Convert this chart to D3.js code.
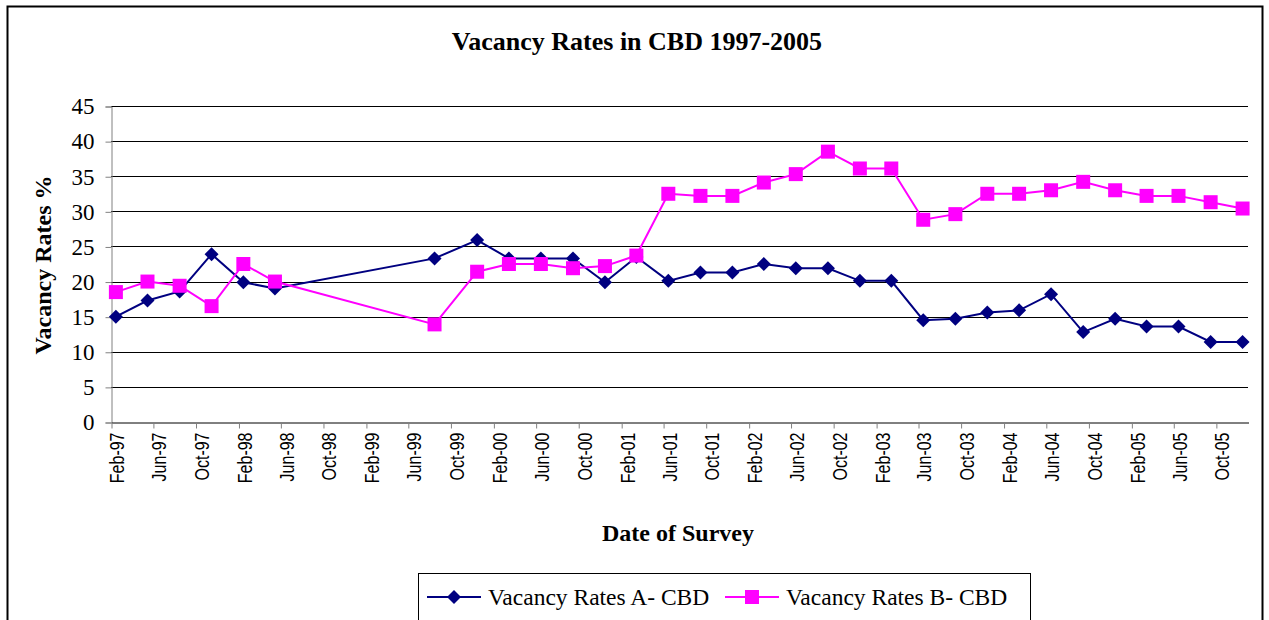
<!DOCTYPE html>
<html>
<head>
<meta charset="utf-8">
<script src="https://cdn.jsdelivr.net/npm/d3@7"></script>
<style>
  body { margin: 0; background: #fff; }
</style>
</head>
<body>
<div id="chart"></div>
<script>
// survey dates (month of survey)
const surveyDates = ["Feb-97","May-97","Aug-97","Nov-97","Feb-98","May-98","Aug-99","Dec-99",
  "Mar-00","Jun-00","Sep-00","Dec-00","Mar-01","Jun-01","Sep-01","Dec-01",
  "Mar-02","Jun-02","Sep-02","Dec-02","Mar-03","Jun-03","Sep-03","Dec-03",
  "Mar-04","Jun-04","Sep-04","Dec-04","Mar-05","Jun-05","Sep-05","Dec-05"];

const ratesA = [15.0, 17.3, 18.6, 23.9, 19.9, 19.0, 23.3, 25.9,
  23.3, 23.3, 23.3, 19.9, 23.5, 20.1, 21.3, 21.3,
  22.5, 21.9, 21.9, 20.1, 20.1, 14.5, 14.7, 15.6,
  15.9, 18.2, 12.8, 14.7, 13.6, 13.6, 11.4, 11.4];

const ratesB = [18.5, 20.0, 19.4, 16.5, 22.5, 20.0, 13.9, 21.4,
  22.5, 22.5, 21.9, 22.2, 23.7, 32.5, 32.2, 32.2,
  34.1, 35.3, 38.5, 36.1, 36.1, 28.8, 29.6, 32.5,
  32.5, 33.0, 34.2, 33.0, 32.2, 32.2, 31.3, 30.4];

const tickLabels = ["Feb-97","Jun-97","Oct-97","Feb-98","Jun-98","Oct-98","Feb-99","Jun-99",
  "Oct-99","Feb-00","Jun-00","Oct-00","Feb-01","Jun-01","Oct-01","Feb-02","Jun-02",
  "Oct-02","Feb-03","Jun-03","Oct-03","Feb-04","Jun-04","Oct-04","Feb-05","Jun-05","Oct-05"];

const yTicks = [0, 5, 10, 15, 20, 25, 30, 35, 40, 45];
const axisStart = "Feb-97", axisEnd = "Jan-06";

const width = 1269, height = 620;
const margin = ({top: 106, right: 21, bottom: 198, left: 111});
const serif = "'Liberation Serif', 'Times New Roman', serif";
const sans = "'Liberation Sans', Arial, sans-serif";
const colA = "#000080", colB = "#ff00ff";

const parse = d3.timeParse("%b-%y");

const svg = d3.select("#chart")
  .append("svg")
  .attr("width", width)
  .attr("height", height);

// outer chart frame
svg.append("rect")
  .attr("x", 7.5).attr("y", 6.5)
  .attr("width", 1255).attr("height", 640)
  .attr("fill", "none")
  .attr("stroke", "#000")
  .attr("stroke-width", 2);

const x = d3.scaleTime()
  .domain([parse(axisStart), parse(axisEnd)])
  .range([margin.left, width - margin.right]);

const y = d3.scaleLinear()
  .domain([0, 45])
  .range([height - margin.bottom, margin.top]);

// points sit in the middle of their month
const xMid = s => {
  const d = parse(s);
  return (x(d) + x(d3.timeMonth.offset(d, 1))) / 2;
};

// gridlines
svg.append("g")
  .selectAll("line")
  .data(yTicks.slice(1))
  .join("line")
    .attr("x1", margin.left)
    .attr("x2", width - margin.right)
    .attr("y1", d => Math.round(y(d)) + 0.5)
    .attr("y2", d => Math.round(y(d)) + 0.5)
    .attr("stroke", "#000")
    .attr("stroke-width", 1);

// y axis
const yAxis = g => g
  .attr("transform", `translate(${margin.left + 0.5},0.5)`)
  .call(d3.axisLeft(y).tickValues(yTicks).tickSize(6).tickPadding(11))
  .call(g => g.select(".domain").attr("stroke", "#808080"))
  .call(g => g.selectAll(".tick line").attr("stroke", "#808080"))
  .call(g => g.selectAll(".tick text")
    .style("font-family", serif)
    .style("font-size", "23px")
    .attr("fill", "#000"));

// x axis
const xAxis = g => g
  .attr("transform", `translate(0.5,${height - margin.bottom + 0.5})`)
  .call(d3.axisBottom(x)
    .tickValues(tickLabels.map(parse))
    .tickFormat(d3.timeFormat("%b-%y"))
    .tickSize(6)
    .tickSizeOuter(0))
  .call(g => g.select(".domain").attr("stroke", "#000"))
  .call(g => g.selectAll(".tick line").attr("stroke", "#808080"))
  .call(g => g.selectAll(".tick text")
    .style("font-family", sans)
    .style("font-size", "16px")
    .attr("fill", "#000")
    .attr("text-anchor", "end")
    .attr("transform", "rotate(-90) scale(1,1.3)")
    .attr("x", -10)
    .attr("y", 4)
    .attr("dy", "0.35em"));

svg.append("g").call(yAxis);
svg.append("g").call(xAxis);

// series
const series = [
  {name: "Vacancy Rates A- CBD", values: ratesA, color: colA, shape: "diamond"},
  {name: "Vacancy Rates B- CBD", values: ratesB, color: colB, shape: "square"}
];

const line = d3.line()
  .x((d, i) => xMid(surveyDates[i]))
  .y(d => y(d));

const marker = (sel, shape, color) => {
  if (shape === "diamond") {
    sel.append("path")
      .attr("d", "M0,-7L7,0L0,7L-7,0Z")
      .attr("fill", color);
  } else {
    sel.append("rect")
      .attr("x", -7).attr("y", -7)
      .attr("width", 14).attr("height", 14)
      .attr("fill", color);
  }
};

series.forEach(s => {
  svg.append("path")
    .datum(s.values)
    .attr("fill", "none")
    .attr("stroke", s.color)
    .attr("stroke-width", 2)
    .attr("d", line);

  svg.append("g")
    .selectAll("g")
    .data(s.values)
    .join("g")
      .attr("transform", (d, i) => `translate(${xMid(surveyDates[i])},${y(d)})`)
      .each(function() { marker(d3.select(this), s.shape, s.color); });
});

// title
svg.append("text")
  .attr("x", 637)
  .attr("y", 50)
  .attr("text-anchor", "middle")
  .style("font-family", serif)
  .style("font-size", "26px")
  .style("font-weight", "bold")
  .text("Vacancy Rates in CBD 1997-2005");

// axis titles
svg.append("text")
  .attr("x", 678)
  .attr("y", 541)
  .attr("text-anchor", "middle")
  .style("font-family", serif)
  .style("font-size", "24px")
  .style("font-weight", "bold")
  .text("Date of Survey");

svg.append("text")
  .attr("transform", "translate(51,265) rotate(-90)")
  .attr("text-anchor", "middle")
  .style("font-family", serif)
  .style("font-size", "24px")
  .style("font-weight", "bold")
  .text("Vacancy Rates %");

// legend
const legend = svg.append("g");
legend.append("rect")
  .attr("x", 418.5).attr("y", 573.5)
  .attr("width", 612).attr("height", 80)
  .attr("fill", "#fff")
  .attr("stroke", "#000")
  .attr("stroke-width", 1);

const legendX = [427, 725];
series.forEach((s, i) => {
  const g = legend.append("g")
    .attr("transform", `translate(${legendX[i]},597)`);
  g.append("line")
    .attr("x1", 0).attr("x2", 54)
    .attr("stroke", s.color)
    .attr("stroke-width", 2);
  marker(g.append("g").attr("transform", "translate(27,0)"), s.shape, s.color);
  g.append("text")
    .attr("x", 61)
    .attr("y", 8)
    .style("font-family", serif)
    .style("font-size", "23.5px")
    .text(s.name);
});
</script>
</body>
</html>
